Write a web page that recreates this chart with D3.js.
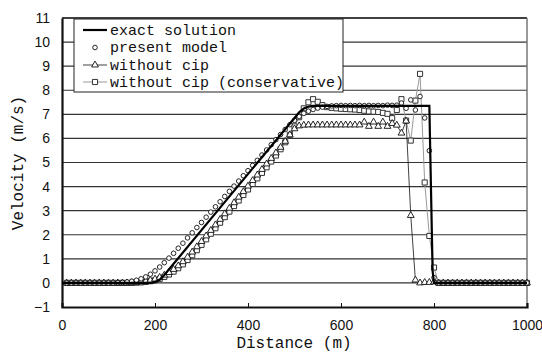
<!DOCTYPE html>
<html><head><meta charset="utf-8">
<script src="https://cdn.jsdelivr.net/npm/d3@7"></script>
<style>body{margin:0;background:#fff}svg{display:block}</style>
</head><body>
<script>
const xs = [10,20,30,40,50,60,70,80,90,100,110,120,130,140,150,160,170,180,190,200,210,220,230,240,250,260,270,280,290,300,310,320,330,340,350,360,370,380,390,400,410,420,430,440,450,460,470,480,490,500,510,520,530,540,550,560,570,580,590,600,610,620,630,640,650,660,670,680,690,700,710,720,730,740,750,760,770,780,790,800,810,820,830,840,850,860,870,880,890,900,910,920,930,940,950,960,970,980,990,1000];

const exactX = [0,190,200,210,220,500,510,520,530,540,790,797,800,1000];
const exactY = [0,0,0.03,0.13,0.33,6.85,7.08,7.24,7.32,7.35,7.35,0.5,0,0];

const presentModel = [0,0,0,0,0,0,0,0,0,0,0,0.01,0.02,0.04,0.07,0.11,0.17,0.25,0.36,0.5,
0.66,0.84,1.03,1.23,1.44,1.65,1.87,2.08,2.3,2.51,2.73,2.94,3.16,3.37,3.59,3.8,4.02,4.23,4.45,4.66,
4.88,5.09,5.31,5.52,5.74,5.95,6.16,6.37,6.57,6.75,6.91,7.04,7.13,7.2,7.26,7.3,7.33,7.35,7.36,7.37,
7.36,7.37,7.36,7.37,7.36,7.37,7.36,7.37,7.36,7.38,7.37,7.38,7.47,7.25,7.6,7.18,7.74,6.85,5.49,0.22,
0,0,0,0,0,0,0,0,0,0,0,0,0,0,0,0,0,0,0,0];

const withoutCip = [0,0,0,0,0,0,0,0,0,0,0,0,0,0,0.01,0.02,0.04,0.07,0.11,0.16,
0.23,0.32,0.43,0.56,0.71,0.88,1.07,1.28,1.5,1.72,1.95,2.18,2.41,2.64,2.87,3.1,3.33,3.56,3.79,4.02,
4.25,4.48,4.71,4.94,5.17,5.4,5.63,5.88,6.15,6.4,6.52,6.55,6.56,6.56,6.56,6.56,6.56,6.56,6.56,6.56,
6.56,6.56,6.56,6.56,6.68,6.5,6.68,6.5,6.68,6.5,6.62,6.55,6.22,6.72,2.8,0.12,0,0.02,0.02,0.04,
0,0,0,0,0,0,0,0,0,0,0,0,0,0,0,0,0,0,0,0];

const withoutCipCons = [0,0,0,0,0,0,0,0,0,0,0,0,0,0,0,0.01,0.02,0.04,0.07,0.11,
0.17,0.25,0.35,0.47,0.61,0.77,0.95,1.15,1.36,1.58,1.81,2.04,2.27,2.5,2.73,2.96,3.19,3.42,3.65,3.88,
4.11,4.34,4.57,4.8,5.04,5.29,5.55,5.84,6.15,6.5,6.88,7.25,7.5,7.63,7.52,7.38,7.3,7.27,7.25,7.23,
7.22,7.21,7.2,7.18,7.15,7.12,7.11,7.1,7.06,7.02,6.84,7.18,7.63,6.74,5.91,7.57,8.68,4.17,1.95,0.64,
0,0,0,0,0,0,0,0,0,0,0,0,0,0,0,0,0,0,0,0];

const xTicks = [0,200,400,600,800,1000];
const yTicks = [-1,0,1,2,3,4,5,6,7,8,9,10,11];
const legendLabels = ["exact solution","present model","without cip","without cip (conservative)"];
const xTitle = "Distance (m)";
const yTitle = "Velocity (m/s)";

const W = 542, H = 352;
const svg = d3.select("body").append("svg").attr("width", W).attr("height", H);
const x = d3.scaleLinear().domain([0,1000]).range([62,527]);
const y = d3.scaleLinear().domain([-1,11]).range([307,18]);

// gridlines
svg.append("g").selectAll("line").data(yTicks.filter(v => v >= 0 && v <= 10)).join("line")
  .attr("x1", x(0)).attr("x2", x(1000)).attr("y1", d => y(d)).attr("y2", d => y(d))
  .attr("stroke", "#333").attr("stroke-width", 1.1);

// frame: top and right
svg.append("line").attr("x1", x(0)).attr("x2", x(1000)).attr("y1", y(11)).attr("y2", y(11))
  .attr("stroke", "#000").attr("stroke-width", 1.5);
svg.append("line").attr("x1", x(1000)).attr("x2", x(1000)).attr("y1", y(11)).attr("y2", y(-1))
  .attr("stroke", "#777").attr("stroke-width", 1.5);

// axes
const fontTick = "'Liberation Sans', Arial, sans-serif";
const xAxis = svg.append("g").attr("transform", `translate(0,${y(-1)})`)
  .call(d3.axisBottom(x).tickValues(xTicks).tickSize(-4).tickPadding(13).tickFormat(d3.format("d")));
const yAxis = svg.append("g").attr("transform", `translate(${x(0)},0)`)
  .call(d3.axisLeft(y).tickValues(yTicks).tickSize(0).tickPadding(12).tickFormat(d => d < 0 ? "\u22121" : String(d)));
[xAxis, yAxis].forEach(g => {
  g.select(".domain").attr("stroke", "#111").attr("stroke-width", 2.2);
  g.selectAll(".tick line").attr("stroke", "#111").attr("stroke-width", 1);
  g.selectAll(".tick text").attr("font-family", fontTick).attr("font-size", 14).attr("fill", "#111");
});
xAxis.selectAll(".tick").filter(d => d === 0 || d === 1000).select("line").remove();

// series
const mono = "'Liberation Mono', 'DejaVu Sans Mono', monospace";
const pts = arr => xs.map((xv, i) => [xv, arr[i]]);
const line = d3.line().x(d => x(d[0])).y(d => y(d[1]));

const exactPts = exactX.map((xv, i) => [xv, exactY[i]]);
const tri = d3.symbol().type(d3.symbolTriangle).size(20);
const sq = d3.symbol().type(d3.symbolSquare).size(26);

// conservative: gray line + squares
svg.append("path").datum(pts(withoutCipCons)).attr("d", line)
  .attr("fill", "none").attr("stroke", "#999").attr("stroke-width", 1);
svg.append("g").selectAll("path").data(pts(withoutCipCons)).join("path")
  .attr("d", sq).attr("transform", d => `translate(${x(d[0])},${y(d[1])})`)
  .attr("fill", "#fff").attr("stroke", "#333").attr("stroke-width", 1);

// without cip: black thin line + triangles
svg.append("path").datum(pts(withoutCip)).attr("d", line)
  .attr("fill", "none").attr("stroke", "#111").attr("stroke-width", 0.8);
svg.append("g").selectAll("path").data(pts(withoutCip)).join("path")
  .attr("d", tri).attr("transform", d => `translate(${x(d[0])},${y(d[1])})`)
  .attr("fill", "#fff").attr("stroke", "#111").attr("stroke-width", 0.9);

// present model: circles
svg.append("g").selectAll("circle").data(pts(presentModel)).join("circle")
  .attr("cx", d => x(d[0])).attr("cy", d => y(d[1])).attr("r", 2.3)
  .attr("fill", "#fff").attr("stroke", "#111").attr("stroke-width", 0.9);

// exact
svg.append("path").datum(exactPts).attr("d", line)
  .attr("fill", "none").attr("stroke", "#000").attr("stroke-width", 2.2);

// legend
const lg = svg.append("g");
lg.append("rect").attr("x", 74).attr("y", 19).attr("width", 269).attr("height", 73)
  .attr("fill", "#fff").attr("stroke", "#222").attr("stroke-width", 1);
const rowsY = [30, 47.5, 65, 82];
legendLabels.forEach((lab, i) => {
  const yy = rowsY[i];
  if (i === 0) lg.append("line").attr("x1", 83).attr("x2", 107).attr("y1", yy).attr("y2", yy).attr("stroke", "#000").attr("stroke-width", 2.2);
  if (i === 1) lg.append("circle").attr("cx", 95).attr("cy", yy).attr("r", 2.3).attr("fill", "#fff").attr("stroke", "#111").attr("stroke-width", 0.9);
  if (i === 2) {
    lg.append("line").attr("x1", 83).attr("x2", 107).attr("y1", yy).attr("y2", yy).attr("stroke", "#111").attr("stroke-width", 0.8);
    lg.append("path").attr("d", tri).attr("transform", `translate(95,${yy})`).attr("fill", "#fff").attr("stroke", "#111").attr("stroke-width", 0.9);
  }
  if (i === 3) {
    lg.append("line").attr("x1", 83).attr("x2", 107).attr("y1", yy).attr("y2", yy).attr("stroke", "#999").attr("stroke-width", 1);
    lg.append("path").attr("d", sq).attr("transform", `translate(95,${yy})`).attr("fill", "#fff").attr("stroke", "#333").attr("stroke-width", 1);
  }
  lg.append("text").attr("x", 110).attr("y", yy + 4.5).text(lab)
    .attr("font-family", mono).attr("font-size", 15).attr("fill", "#111");
});

// titles
svg.append("text").attr("x", 294).attr("y", 348).attr("text-anchor", "middle")
  .attr("font-family", mono).attr("font-size", 16).attr("fill", "#111").text(xTitle);
svg.append("text").attr("transform", "translate(23,163) rotate(-90)").attr("text-anchor", "middle")
  .attr("font-family", mono).attr("font-size", 16).attr("fill", "#111").text(yTitle);
</script>
</body></html>
